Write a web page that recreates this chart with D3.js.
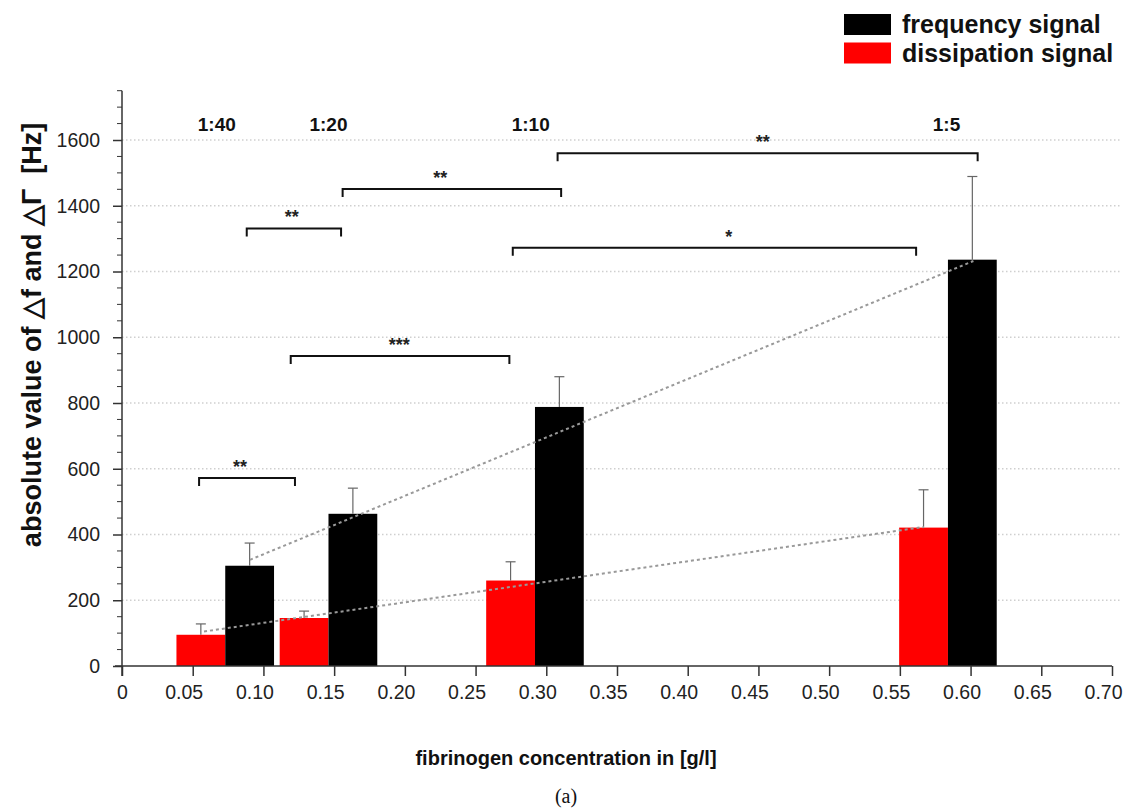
<!DOCTYPE html>
<html>
<head>
<meta charset="utf-8">
<script src="https://cdn.jsdelivr.net/npm/d3@7"></script>
<style>
  body { margin: 0; background: #fff; }
  svg { display: block; font-family: "Liberation Sans", Arial, sans-serif; }
</style>
</head>
<body>
<svg width="1126" height="812"></svg>
<script>
// group centres on the concentration axis, one per dilution
let groups = [0.073, 0.146, 0.292, 0.584]
let ratios = ["1:40", "1:20", "1:10", "1:5"]
let ratioX = [0.067, 0.146, 0.289, 0.583]

let freq = [305, 463, 788, 1236]
let freqErr = [69, 78, 92, 253]
let diss = [95, 146, 260, 421]
let dissErr = [33, 21, 57, 115]

let freqTrend = [[0.0905, 323], [0.602, 1232]]
let dissTrend = [[0.058, 105], [0.567, 423]]

// significance brackets: from, to, height, label, label x
let brFrom = [0.0545, 0.0882, 0.156, 0.308, 0.2763, 0.1193]
let brTo = [0.1223, 0.1549, 0.3105, 0.605, 0.5615, 0.2739]
let brY = [572, 1331, 1451, 1560, 1272, 943]
let brLabel = ["**", "**", "**", "**", "*", "***"]
let brLabelX = [0.0835, 0.12, 0.225, 0.453, 0.429, 0.196]

let xTicks = d3.range(0, 15).map(d => d * 0.05)
let yTicks = [0, 200, 400, 600, 800, 1000, 1200, 1400, 1600]

const barW = 0.0345

var svg = d3.select("svg")

var x = d3.scaleLinear().domain([0, 0.7]).range([122, 1112])
var y = d3.scaleLinear().domain([0, 1750]).range([666, 90.7])

// grid
svg.append("g")
  .selectAll("line")
  .data(yTicks.slice(1))
  .enter().append("line")
    .attr("x1", x(0)).attr("x2", 1122)
    .attr("y1", d => y(d)).attr("y2", d => y(d))
    .attr("stroke", "#cfcfcf")
    .attr("stroke-width", 1.5)
    .attr("stroke-dasharray", "1.5,2.5")

// bars
svg.append("g")
  .selectAll("rect")
  .data(groups)
  .enter().append("rect")
    .attr("x", d => x(d - barW))
    .attr("width", d => x(d) - x(d - barW))
    .attr("y", (d, i) => y(diss[i]))
    .attr("height", (d, i) => y(0) - y(diss[i]))
    .attr("fill", "#ff0000")

svg.append("g")
  .selectAll("rect")
  .data(groups)
  .enter().append("rect")
    .attr("x", d => x(d))
    .attr("width", d => x(d + barW) - x(d))
    .attr("y", (d, i) => y(freq[i]))
    .attr("height", (d, i) => y(0) - y(freq[i]))
    .attr("fill", "#000")

// error bars
function errBars(cx, vals, errs) {
  let g = svg.append("g").attr("stroke", "#666").attr("stroke-width", 1.2)
  groups.forEach(function(d, i) {
    let px = x(cx(d))
    g.append("line").attr("x1", px).attr("x2", px)
      .attr("y1", y(vals[i])).attr("y2", y(vals[i] + errs[i]))
    g.append("line").attr("x1", px - 5).attr("x2", px + 5)
      .attr("y1", y(vals[i] + errs[i])).attr("y2", y(vals[i] + errs[i]))
  })
}
errBars(d => d - barW / 2, diss, dissErr)
errBars(d => d + barW / 2, freq, freqErr)

// trend lines
var line = d3.line().x(d => x(d[0])).y(d => y(d[1]))
;[freqTrend, dissTrend].forEach(function(t) {
  svg.append("path")
    .attr("d", line(t))
    .attr("fill", "none")
    .attr("stroke", "#999")
    .attr("stroke-width", 2)
    .attr("stroke-dasharray", "3,3")
})

// significance brackets
var br = svg.append("g")
brY.forEach(function(v, i) {
  let x0 = x(brFrom[i]), x1 = x(brTo[i]), py = y(v)
  br.append("path")
    .attr("d", `M${x0},${py + 8}V${py}H${x1}V${py + 8}`)
    .attr("fill", "none")
    .attr("stroke", "#111")
    .attr("stroke-width", 2)
  br.append("text")
    .attr("x", x(brLabelX[i]))
    .attr("y", py - 5)
    .attr("text-anchor", "middle")
    .attr("font-size", 18)
    .attr("font-weight", "bold")
    .attr("fill", "#222")
    .text(brLabel[i])
})

// dilution labels
svg.append("g")
  .selectAll("text")
  .data(ratios)
  .enter().append("text")
    .attr("x", (d, i) => x(ratioX[i]))
    .attr("y", 131)
    .attr("text-anchor", "middle")
    .attr("font-size", 19)
    .attr("font-weight", "bold")
    .attr("fill", "#111")
    .text(d => d)

// axes
var xAxis = svg.append("g")
  .attr("transform", `translate(0,${y(0)})`)
  .call(d3.axisBottom(x).tickValues(xTicks).tickSize(10).tickPadding(9)
    .tickFormat(d => d === 0 ? "0" : d3.format(".2f")(d)))
xAxis.select(".domain").attr("d", `M${x(0) - 7},0H${x(0.7)}`)
xAxis.selectAll(".tick text").attr("dx", d => d === 0 ? 0 : -9)

var yAxis = svg.append("g")
  .attr("transform", `translate(${x(0)},0)`)
  .call(d3.axisLeft(y).tickValues(yTicks).tickSize(9).tickPadding(13)
    .tickFormat(d3.format("d")))
yAxis.select(".domain").attr("d", `M0,${y(1750)}V${y(0) + 10}`)
yAxis.selectAll(".minor")
  .data(d3.range(50, 1751, 50).filter(d => d % 200 !== 0))
  .enter().append("line")
    .attr("x1", -5).attr("x2", 0)
    .attr("y1", d => y(d)).attr("y2", d => y(d))
    .attr("stroke", "#333")

;[xAxis, yAxis].forEach(function(a) {
  a.selectAll(".domain").attr("stroke", "#333").attr("stroke-width", 1.5)
  a.selectAll(".tick line").attr("stroke", "#333").attr("stroke-width", 1.5)
  a.selectAll("text")
    .attr("font-size", 19.5)
    .attr("fill", "#222")
    .attr("font-family", "Liberation Sans, Arial, sans-serif")
})

// axis titles
svg.append("text")
  .attr("transform", "translate(41,335) rotate(-90)")
  .attr("text-anchor", "middle")
  .attr("font-size", 27)
  .attr("font-weight", "bold")
  .attr("fill", "#111")
  .style("white-space", "pre")
  .text("absolute value of \u25B3f and \u25B3\u0393  [Hz]")

svg.append("text")
  .attr("x", 566)
  .attr("y", 765)
  .attr("text-anchor", "middle")
  .attr("font-size", 20)
  .attr("font-weight", "bold")
  .attr("fill", "#111")
  .text("fibrinogen concentration in [g/l]")

svg.append("text")
  .attr("x", 566)
  .attr("y", 803)
  .attr("text-anchor", "middle")
  .attr("font-size", 20)
  .attr("font-family", "Liberation Serif, serif")
  .attr("fill", "#111")
  .text("(a)")

// legend
let legendItems = ["frequency signal", "dissipation signal"]
let legendColors = ["#000", "#ff0000"]
var lg = svg.append("g")
legendItems.forEach(function(t, i) {
  lg.append("rect")
    .attr("x", 844).attr("y", 14 + i * 28.5)
    .attr("width", 47).attr("height", 21)
    .attr("fill", legendColors[i])
  lg.append("text")
    .attr("x", 902).attr("y", 33 + i * 28.5)
    .attr("font-size", 25)
    .attr("font-weight", "bold")
    .attr("fill", "#111")
    .text(t)
})
</script>
</body>
</html>
